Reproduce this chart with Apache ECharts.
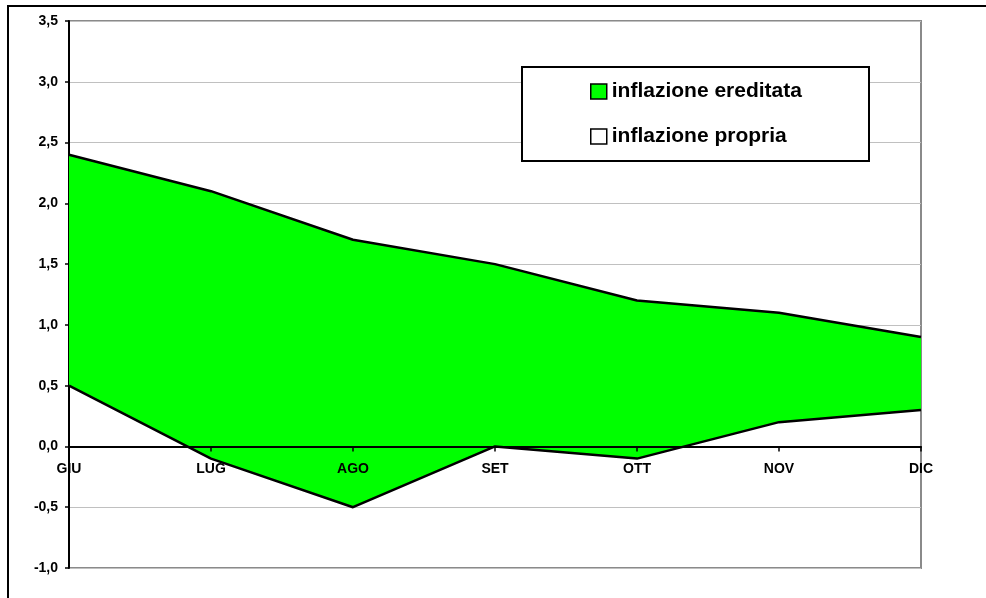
<!DOCTYPE html>
<html>
<head>
<meta charset="utf-8">
<script src="https://cdn.jsdelivr.net/npm/echarts@6/dist/echarts.min.js"></script>
<style>
  html, body { margin: 0; padding: 0; background: #fff; }
  #main { width: 986px; height: 598px; }
</style>
</head>
<body>
<div id="main"></div>
<script>
// mesi
const months = ['GIU', 'LUG', 'AGO', 'SET', 'OTT', 'NOV', 'DIC']
// serie impilate (stile Excel): la propria sta sotto, l'ereditata sopra
const inflPropria = [0.5, -0.1, -0.5, 0.0, -0.1, 0.2, 0.3]
const inflEreditata = [1.9, 2.2, 2.2, 1.5, 1.3, 0.9, 0.6]
// asse y
const yMin = -1.0
const yMax = 3.5
const yStep = 0.5

const FONT = "'Liberation Sans', Arial, sans-serif"

const myChart = echarts.init(document.getElementById('main'))
const option = {
  animation: false,
  backgroundColor: '#fff',
  graphic: [
    // cornice esterna (destra e sotto fuori dalla finestra)
    {
      type: 'rect',
      silent: true,
      z: -1,
      shape: { x: 8, y: 6, width: 1200, height: 800 },
      style: { fill: null, stroke: '#000', lineWidth: 2 },
    },
    // riquadro legenda
    {
      type: 'rect',
      silent: true,
      z: 10,
      shape: { x: 522, y: 67, width: 347, height: 94 },
      style: { fill: '#fff', stroke: '#000', lineWidth: 2 },
    },
  ],
  grid: {
    left: 69,
    right: 65,
    top: 21,
    bottom: 30,
    show: true,
    borderColor: '#8a8a8a',
    borderWidth: 2,
    backgroundColor: 'transparent',
  },
  legend: {
    left: 590,
    top: 81,
    padding: 0,
    orient: 'vertical',
    z: 11,
    icon: 'rect',
    itemWidth: 16,
    itemHeight: 15,
    itemGap: 24,
    textStyle: {
      fontFamily: FONT,
      fontWeight: 'bold',
      fontSize: 21,
      lineHeight: 20,
      color: '#000',
    },
    data: [
      {
        name: 'inflazione ereditata',
        itemStyle: { color: '#00ff00', borderColor: '#000', borderWidth: 1.5 },
      },
      {
        name: 'inflazione propria',
        itemStyle: { color: '#fff', borderColor: '#000', borderWidth: 1.5 },
      },
    ],
  },
  xAxis: {
    type: 'category',
    data: months,
    boundaryGap: false,
    z: 5,
    axisLine: { onZero: true, lineStyle: { color: '#000', width: 2 } },
    axisTick: { show: true, length: 5, lineStyle: { color: '#000', width: 1.5 } },
    axisLabel: {
      // le etichette restano sul bordo del grid: le riporto sotto lo zero
      margin: -106,
      fontFamily: FONT,
      fontWeight: 'bold',
      fontSize: 14,
      color: '#000',
    },
    splitLine: { show: false },
  },
  yAxis: {
    type: 'value',
    min: yMin,
    max: yMax,
    interval: yStep,
    axisLine: { show: true, lineStyle: { color: '#000', width: 2 } },
    axisTick: { show: true, length: 4, lineStyle: { color: '#000', width: 1.5 } },
    axisLabel: {
      margin: 11,
      fontFamily: FONT,
      fontWeight: 'bold',
      fontSize: 14,
      color: '#000',
      formatter: (v) => v.toFixed(1).replace('.', ','),
    },
    splitLine: { show: true, lineStyle: { color: '#c0c0c0', width: 1 } },
  },
  series: [
    {
      name: 'inflazione propria',
      type: 'line',
      stack: 'tot',
      stackStrategy: 'all',
      data: inflPropria,
      symbol: 'none',
      itemStyle: { color: '#fff' },
      lineStyle: { color: '#000', width: 2.5 },
    },
    {
      name: 'inflazione ereditata',
      type: 'line',
      stack: 'tot',
      stackStrategy: 'all',
      data: inflEreditata,
      symbol: 'none',
      itemStyle: { color: '#00ff00' },
      lineStyle: { color: '#000', width: 2.5 },
      areaStyle: { color: '#00ff00', opacity: 1 },
    },
  ],
}
option && myChart.setOption(option)
</script>
</body>
</html>
